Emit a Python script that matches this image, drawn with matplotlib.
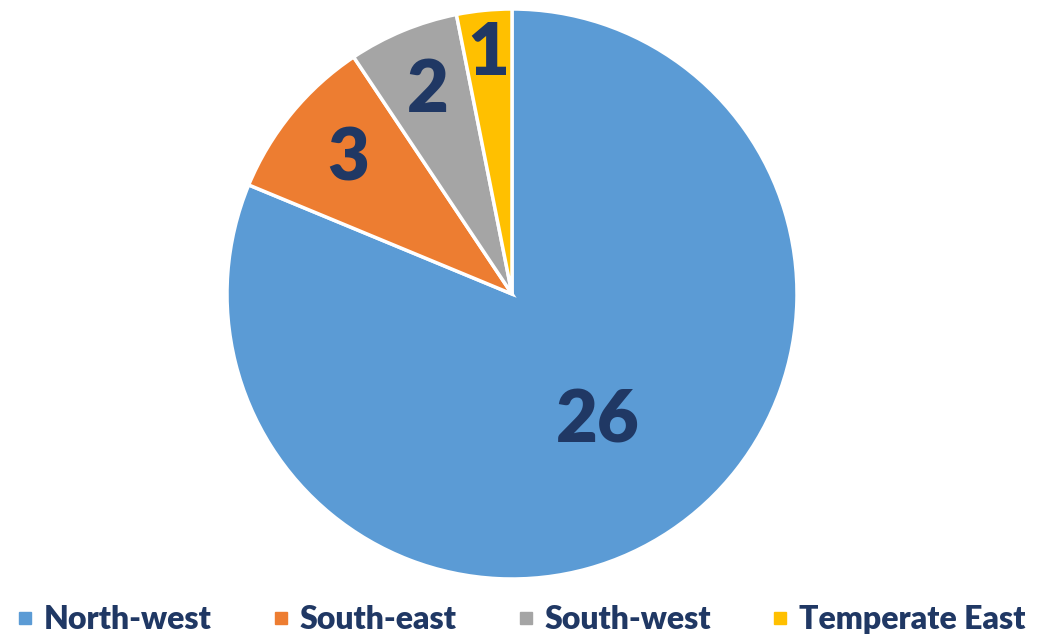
import numpy as np
import matplotlib.pyplot as plt
from matplotlib.lines import Line2D

# data
regions = ['North-west', 'South-east', 'South-west', 'Temperate East']
counts = [26, 3, 2, 1]
colors = ['#5B9BD5', '#ED7D31', '#A5A5A5', '#FFC000']
label_dist = [0.54, 0.745, 0.77, 0.845]
text_color = '#203864'

plt.rcParams['font.family'] = ['Lato', 'DejaVu Sans']

W, H = 1038, 634
fig = plt.figure(figsize=(W / 100, H / 100), dpi=100)
cx, cy, r = 512, 294, 285
ax = fig.add_axes([(cx - r) / W, (H - cy - r) / H, 2 * r / W, 2 * r / H])

wedges, _ = ax.pie(counts, colors=colors, startangle=90, counterclock=False,
                   wedgeprops=dict(edgecolor='white', linewidth=2.5))
ax.set_xlim(-1, 1)
ax.set_ylim(-1, 1)
ax.set_aspect('equal')
ax.axis('off')

for w, n, d in zip(wedges, counts, label_dist):
    ang = np.deg2rad((w.theta1 + w.theta2) / 2)
    ax.text(d * np.cos(ang), d * np.sin(ang), str(n), ha='center', va='center',
            fontsize=52, fontweight='heavy', color=text_color)

handles = [Line2D([], [], marker='s', linestyle='', markersize=9, color=c) for c in colors]
leg = fig.legend(handles, regions, loc='lower center', ncol=4, frameon=False,
                 bbox_to_anchor=(0.5, -0.045), handletextpad=0.2, columnspacing=1.75,
                 handlelength=0.8, prop=dict(size=23, weight='heavy'))
for t in leg.get_texts():
    t.set_color(text_color)

fig.savefig('out.png', dpi=100)
